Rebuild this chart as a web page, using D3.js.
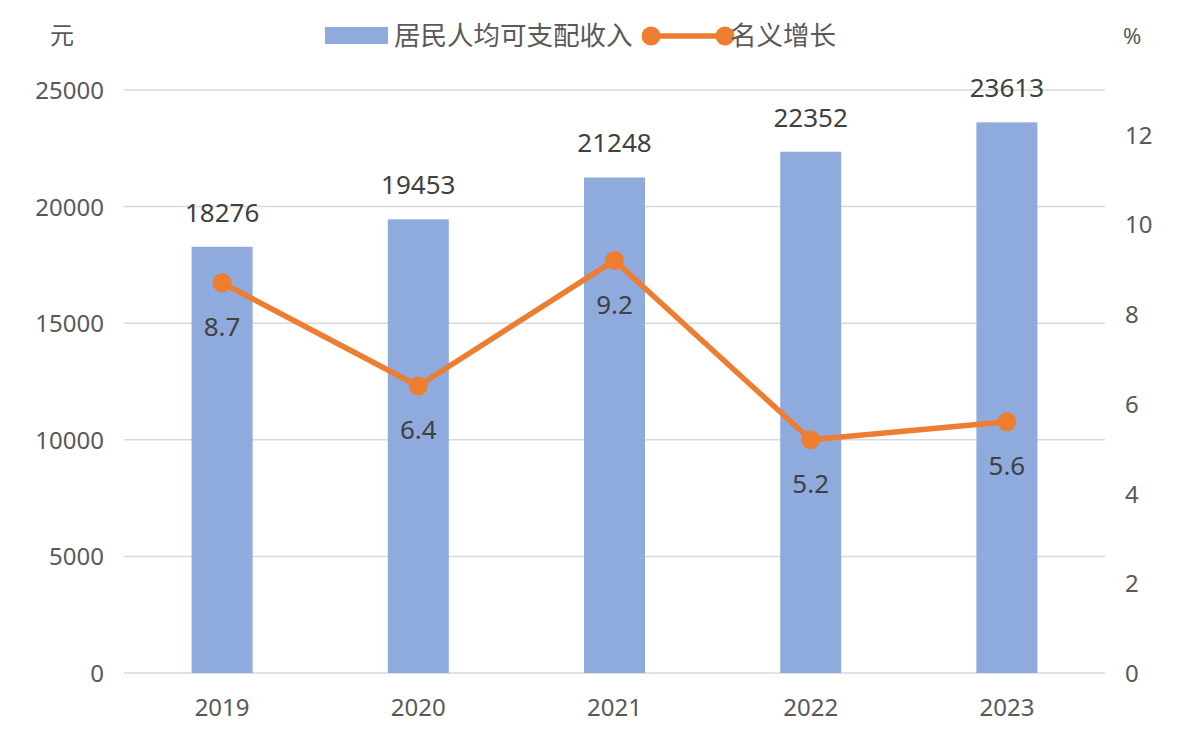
<!DOCTYPE html>
<html>
<head>
<meta charset="utf-8">
<script src="https://cdn.jsdelivr.net/npm/d3@7/dist/d3.min.js"></script>
<style>
  html, body { margin: 0; padding: 0; background: #fff; }
  svg { display: block; }
  text { font-family: "Noto Sans", "Noto Sans CJK SC", sans-serif; }
</style>
</head>
<body>
<svg id="chart" width="1189" height="738"></svg>
<script>
const categories = ["2019", "2020", "2021", "2022", "2023"];
const incomeValues = [18276, 19453, 21248, 22352, 23613];
const growthValues = [8.7, 6.4, 9.2, 5.2, 5.6];
const leftTicks = [0, 5000, 10000, 15000, 20000, 25000];
const rightTicks = [0, 2, 4, 6, 8, 10, 12];
const seriesNames = ["居民人均可支配收入", "名义增长"];
const leftUnit = "元";
const rightUnit = "%";

const W = 1189, H = 738;
const plot = { left: 124, right: 1105, top: 90, bottom: 673 };
const barColor = "#8FAADC";
const lineColor = "#ED7D31";
const gridColor = "#D9D9D9";
const axisText = "#595959";
const labelText = "#404040";

const svg = d3.select("#chart");

const x = d3.scaleBand()
  .domain(categories)
  .range([plot.left, plot.right])
  .paddingInner(0.689)
  .paddingOuter(0.689 / 2);

const yL = d3.scaleLinear().domain([0, 25000]).range([plot.bottom, plot.top]);
const yR = d3.scaleLinear().domain([0, 13]).range([plot.bottom, plot.top]);

// gridlines
svg.append("g")
  .selectAll("line")
  .data(leftTicks)
  .join("line")
  .attr("x1", plot.left).attr("x2", plot.right)
  .attr("y1", d => yL(d)).attr("y2", d => yL(d))
  .attr("stroke", gridColor).attr("stroke-width", 1.5);

// left axis
const leftAxis = d3.axisLeft(yL).tickValues(leftTicks).tickSize(0).tickPadding(0).tickFormat(d3.format("d"));
const gL = svg.append("g").attr("transform", `translate(${plot.left - 20},0)`).call(leftAxis);
gL.select(".domain").remove();
gL.selectAll("text").attr("fill", axisText).style("font-size", "24px").attr("dy", "0.35em");

// right axis
const rightAxis = d3.axisRight(yR).tickValues(rightTicks).tickSize(0).tickPadding(0).tickFormat(d3.format("d"));
const gR = svg.append("g").attr("transform", `translate(${plot.right + 20},0)`).call(rightAxis);
gR.select(".domain").remove();
gR.selectAll("text").attr("fill", axisText).style("font-size", "24px").attr("dy", "0.35em");

// bottom axis
const bottomAxis = d3.axisBottom(x).tickSize(0).tickPadding(0);
const gB = svg.append("g").attr("transform", `translate(0,${plot.bottom + 35})`).call(bottomAxis);
gB.select(".domain").remove();
gB.selectAll("text").attr("fill", axisText).style("font-size", "24px").attr("dy", "0.35em");

// bars
svg.append("g")
  .selectAll("rect")
  .data(incomeValues)
  .join("rect")
  .attr("x", (d, i) => x(categories[i]))
  .attr("width", x.bandwidth())
  .attr("y", d => yL(d))
  .attr("height", d => yL(0) - yL(d))
  .attr("fill", barColor);

// bar labels
svg.append("g")
  .selectAll("text")
  .data(incomeValues)
  .join("text")
  .attr("x", (d, i) => x(categories[i]) + x.bandwidth() / 2)
  .attr("y", d => yL(d) - 25)
  .attr("text-anchor", "middle")
  .attr("fill", labelText)
  .style("font-size", "26px")
  .text(d => d);

// line
const cx = (d, i) => x(categories[i]) + x.bandwidth() / 2;
const lineGen = d3.line().x((d, i) => cx(d, i)).y(d => yR(d));
svg.append("path")
  .datum(growthValues)
  .attr("d", lineGen)
  .attr("fill", "none")
  .attr("stroke", lineColor)
  .attr("stroke-width", 5.5)
  .attr("stroke-linejoin", "round");

svg.append("g")
  .selectAll("circle")
  .data(growthValues)
  .join("circle")
  .attr("cx", (d, i) => cx(d, i))
  .attr("cy", d => yR(d))
  .attr("r", 9.5)
  .attr("fill", lineColor);

// line labels
svg.append("g")
  .selectAll("text")
  .data(growthValues)
  .join("text")
  .attr("x", (d, i) => cx(d, i))
  .attr("y", d => yR(d) + 44)
  .attr("dy", "0.35em")
  .attr("text-anchor", "middle")
  .attr("fill", labelText)
  .style("font-size", "26px")
  .text(d => d3.format(".1f")(d));

// units
svg.append("text").attr("x", 62).attr("y", 36).attr("dy", "0.35em")
  .attr("text-anchor", "middle").attr("fill", axisText)
  .style("font-size", "24px").style("font-family", "'Noto Sans CJK SC', sans-serif")
  .text(leftUnit);
svg.append("text").attr("x", 1123).attr("y", 36).attr("dy", "0.35em")
  .attr("fill", axisText).style("font-size", "22px")
  .text(rightUnit);

// legend
const lg = svg.append("g");
lg.append("rect").attr("x", 325).attr("y", 27).attr("width", 63).attr("height", 17).attr("fill", barColor);
lg.append("text").attr("x", 394).attr("y", 36).attr("dy", "0.35em")
  .attr("fill", axisText).style("font-size", "26.5px")
  .style("font-family", "'Noto Sans CJK SC', sans-serif")
  .text(seriesNames[0]);
lg.append("line").attr("x1", 651).attr("x2", 725).attr("y1", 36).attr("y2", 36)
  .attr("stroke", lineColor).attr("stroke-width", 5.5);
lg.selectAll("circle.lm").data([651, 725]).join("circle")
  .attr("cx", d => d).attr("cy", 36).attr("r", 9.5).attr("fill", lineColor);
lg.append("text").attr("x", 730).attr("y", 36).attr("dy", "0.35em")
  .attr("fill", axisText).style("font-size", "26.5px")
  .style("font-family", "'Noto Sans CJK SC', sans-serif")
  .text(seriesNames[1]);
</script>
</body>
</html>
